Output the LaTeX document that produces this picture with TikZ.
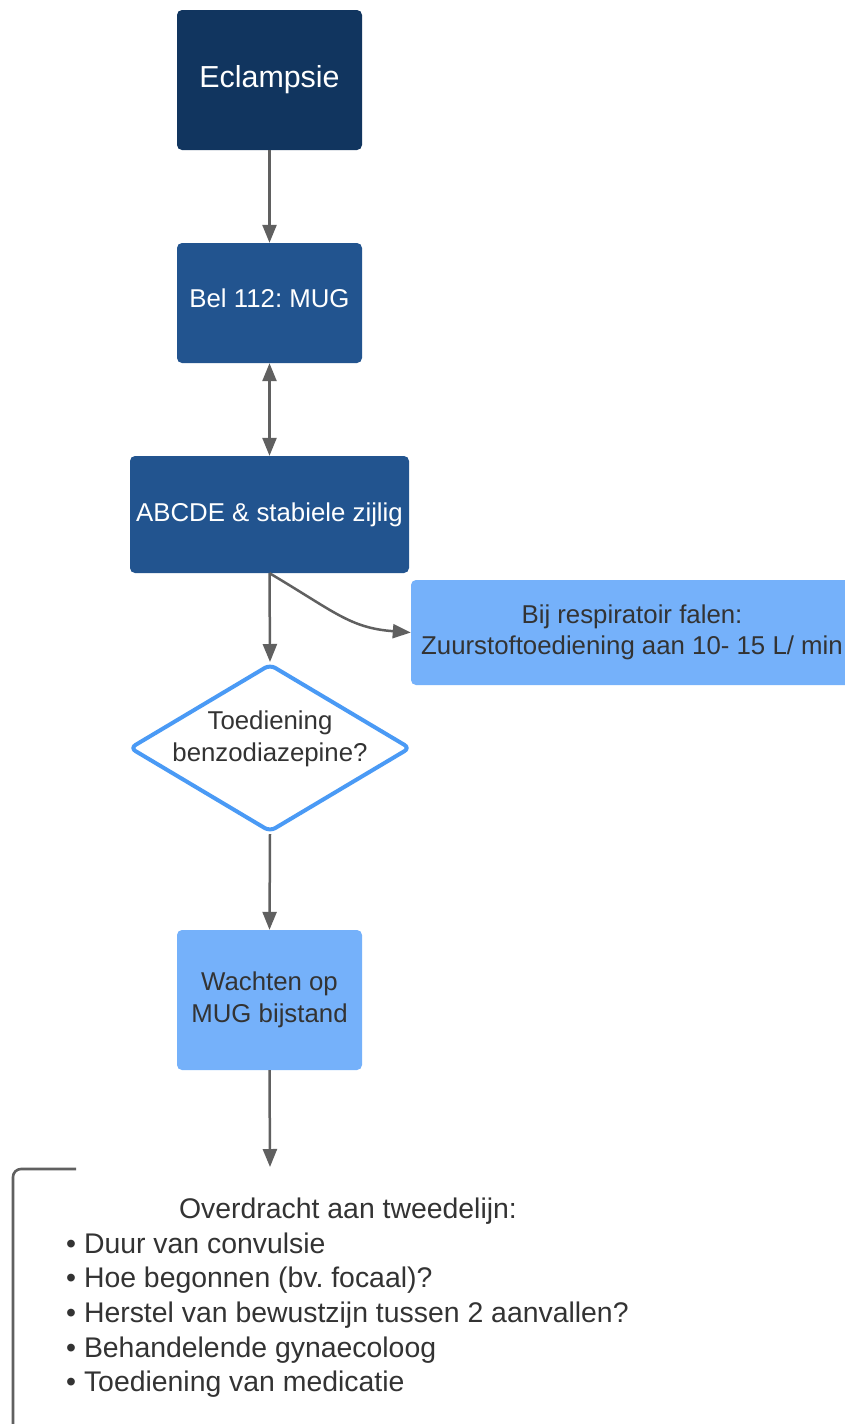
\documentclass[tikz,border=0pt]{standalone}
\usepackage{fontspec}
\setmainfont{Liberation Sans}
\usetikzlibrary{arrows.meta,shapes.geometric}
\definecolor{navy}{HTML}{11355F}
\definecolor{midblue}{HTML}{22548F}
\definecolor{lightblue}{HTML}{75B1FA}
\definecolor{diablue}{HTML}{4A9AF5}
\definecolor{linegray}{HTML}{606060}
\definecolor{txtgray}{HTML}{333333}
\frenchspacing
\begin{document}
\begin{tikzpicture}[x=1pt,y=-1pt,
  box/.style={rectangle, rounded corners=5pt, inner sep=0pt, align=center, font=\fontsize{25.8}{31.5}\selectfont},
  darkbox/.style={box, fill=midblue, text=white},
  lightbox/.style={box, fill=lightblue, text=txtgray},
  conn/.style={draw=linegray, line width=2.5pt, -{Triangle[length=18pt,width=14pt]}},
  biconn/.style={draw=linegray, line width=2.5pt, {Triangle[length=18pt,width=14pt]}-{Triangle[length=18pt,width=14pt]}},
  listtext/.style={anchor=base west, inner sep=0pt, text=txtgray, font=\fontsize{28.4}{34.7}\selectfont},
]
\clip (0,0) rectangle (845,1424);
\fill[white] (0,0) rectangle (845,1424);
\node[box, fill=navy, text=white, minimum width=185pt, minimum height=140pt, font=\fontsize{30.4}{36}\selectfont] (ecl) at (269.5,80) {Eclampsie};
\node[darkbox, minimum width=185pt, minimum height=120pt, text depth=10pt] (bel) at (269.5,303) {Bel 112: MUG};
\node[darkbox, minimum width=279pt, minimum height=117pt] (abc) at (269.5,514.5) {ABCDE \& stabiele zijlig};
\node[lightbox, minimum width=442pt, minimum height=105pt] (resp) at (632,632.5) {Bij respiratoir falen:\\Zuurstoftoediening aan 10- 15 L/ min};
\node[diamond, draw=diablue, line width=4pt, fill=white, rounded corners=6pt, line join=round, minimum width=281pt, minimum height=168pt, inner sep=0pt] (dia) at (270,748) {};
\node[box, text=txtgray] (diatext) at (270,739) {Toediening\\benzodiazepine?};
\node[lightbox, minimum width=185pt, minimum height=140pt] (wacht) at (269.5,1000) {Wachten op\\MUG bijstand};
\coordinate (handtop) at (270,1167);
\draw[conn] (ecl.south) -- (bel.north);
\draw[biconn] (bel.south) -- (abc.north);
\draw[conn] (abc.south) -- (dia.north);
\draw[conn] (abc.south) .. controls (335,612) and (350,628) .. (resp.west);
\draw[conn] (dia.south) -- (wacht.north);
\draw[conn] (wacht.south) -- (handtop);
\draw[linegray, line width=2.6pt, rounded corners=8pt] (76,1169) -- (13,1169) -- (13,1440);
\node[anchor=base, inner sep=0pt, text=txtgray, font=\fontsize{28.4}{34.7}\selectfont] (title) at (348,1218.5) {Overdracht aan tweedelijn:};
\node[listtext] (b1) at (66,1253) {• Duur van convulsie};
\node[listtext] (b2) at (66,1287.7) {• Hoe begonnen (bv. focaal)?};
\node[listtext] (b3) at (66,1322.4) {• Herstel van bewustzijn tussen 2 aanvallen?};
\node[listtext] (b4) at (66,1357.1) {• Behandelende gynaecoloog};
\node[listtext] (b5) at (66,1391.8) {• Toediening van medicatie};
\end{tikzpicture}
\end{document}
